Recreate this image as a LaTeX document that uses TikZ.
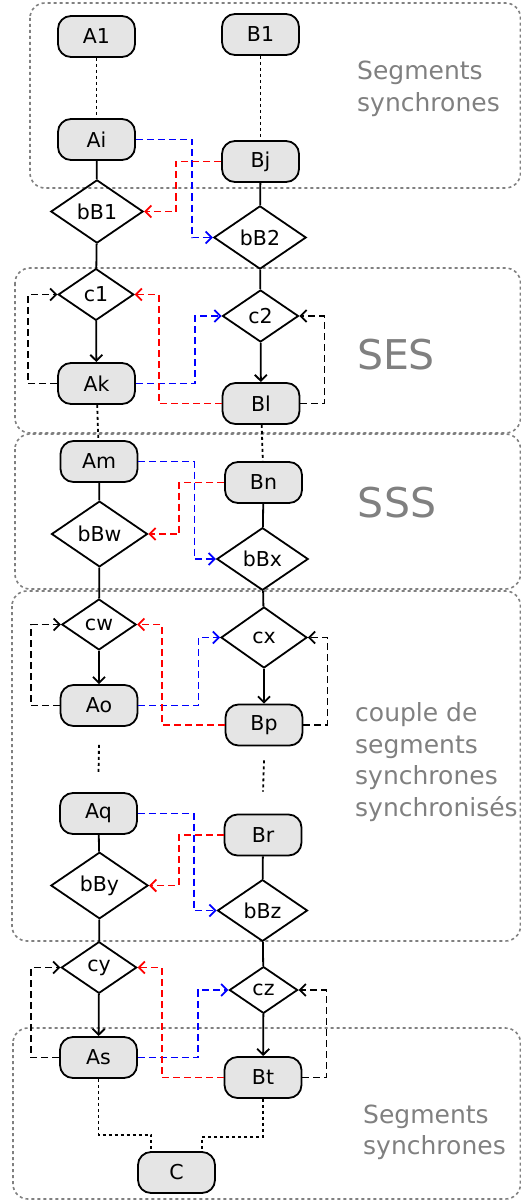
\documentclass[tikz,border=0pt]{standalone}
\usepackage{fontspec}
\setmainfont{DejaVu Sans}
\usetikzlibrary{shapes.geometric,arrows.meta}

\tikzset{
  seg/.style={draw, line width=1.8pt, fill=gray!20, rounded corners=13pt,
    minimum width=77pt, minimum height=41pt, inner sep=0pt,
    font=\fontsize{20.5}{24}\selectfont},
  decision/.style={draw, line width=1.8pt, diamond, aspect=1.46, inner sep=5.9pt,
    font=\fontsize{20.5}{24}\selectfont},
  zone/.style={draw=gray, line width=1.6pt, dash pattern=on 3pt off 3pt,
    rounded corners=15pt},
  zonetext/.style={text=gray, align=left, inner sep=0pt, anchor=west,
    font=\fontsize{25}{31.5}\selectfont},
  flow/.style={line width=1.8pt},
  waitline/.style={line width=1.8pt, dash pattern=on 3pt off 3pt},
  selfloop/.style={line width=1.8pt, dash pattern=on 7pt off 4pt, ->},
  sigA/.style={line width=1.8pt, blue, dash pattern=on 7pt off 4pt, ->},
  sigB/.style={line width=1.8pt, red, dash pattern=on 7pt off 4pt, ->},
  >={Straight Barb[length=6pt,width=12pt]}
}

\begin{document}
\begin{tikzpicture}[x=1pt, y=-1pt]
        \useasboundingbox (0,0) rectangle (521,1201);

        % Zones
        \draw[zone] (30,3) rectangle (520.5,188);
        \draw[zone] (15,268) rectangle (520.5,433);
        \draw[zone] (15,434) rectangle (520.5,589);
        \draw[zone] (12,591) rectangle (520.5,941);
        \draw[zone] (13,1028) rectangle (520.5,1199);

        \node[zonetext] (t1) at (357,89) {Segments\\synchrones};
        \node[text=gray, font=\fontsize{41}{48}\selectfont] (ses) at (396,355) {SES};
        \node[text=gray, font=\fontsize{41}{48}\selectfont] (sss) at (397,503) {SSS};
        \node[zonetext] (t2) at (355,762) {couple de\\segments\\synchrones\\synchronisés};
        \node[zonetext] (t3) at (363,1132.5) {Segments\\synchrones};

        % Segments A
        \node[seg] (A1) at (96.5,36.5) {A1};
        \node[seg] (Ai) at (96.5,139.5) {Ai};
        \node[decision] (bB1) at (97,211.5) {bB1};
        \node[decision] (c1) at (96,294.5) {c1};
        \node[seg] (Ak) at (96.5,383.5) {Ak};
        \node[seg] (Am) at (99,461.5) {Am};
        \node[decision] (bBw) at (99.5,534) {bBw};
        \node[decision] (cw) at (99,624.5) {cw};
        \node[seg] (Ao) at (99,705.5) {Ao};
        \node[seg] (Aq) at (98.5,813.5) {Aq};
        \node[decision] (bBy) at (99.5,885.5) {bBy};
        \node[decision] (cy) at (99,967.5) {cy};
        \node[seg] (As) at (98.5,1057.5) {As};

        % Segments B
        \node[seg] (B1) at (260.5,34.5) {B1};
        \node[seg] (Bj) at (260.5,161.5) {Bj};
        \node[decision] (bB2) at (260,237.5) {bB2};
        \node[decision] (c2) at (260.5,316) {c2};
        \node[seg] (Bl) at (261,403.5) {Bl};
        \node[seg] (Bn) at (263.5,482.5) {Bn};
        \node[decision] (bBx) at (262.5,559) {bBx};
        \node[decision, minimum width=86pt, minimum height=61pt] (cx) at (264,637.5) {cx};
        \node[seg] (Bp) at (264,725) {Bp};
        \node[seg] (Br) at (263,835) {Br};
        \node[decision] (bBz) at (262.5,910.5) {bBz};
        \node[decision] (cz) at (263.5,990) {cz};
        \node[seg] (Bt) at (263,1077.5) {Bt};

        \node[seg] (C) at (176.5,1172.5) {C};

        % Flow A
        \draw[waitline] (A1) -- (Ai);
        \draw[flow] (Ai) -- (bB1);
        \draw[flow] (bB1) -- (c1);
        \draw[flow,->] (c1) -- (Ak);
        \draw[waitline] (Ak) -- (Am);
        \draw[flow] (Am) -- (bBw);
        \draw[flow] (bBw) -- (cw);
        \draw[flow,->] (cw) -- (Ao);
        \draw[waitline] ([yshift=-18pt]Ao.south) -- ([yshift=18pt]Aq.north);
        \draw[flow] (Aq) -- (bBy);
        \draw[flow] (bBy) -- (cy);
        \draw[flow,->] (cy) -- (As);

        % Flow B
        \draw[waitline] (B1) -- (Bj);
        \draw[flow] (Bj) -- (bB2);
        \draw[flow] (bB2) -- (c2);
        \draw[flow,->] (c2) -- (Bl);
        \draw[waitline] (Bl) -- (Bn);
        \draw[flow] (Bn) -- (bBx);
        \draw[flow] (bBx) -- (cx);
        \draw[flow,->] (cx) -- (Bp);
        \draw[waitline] ([yshift=-14pt]Bp.south) -- ([yshift=22pt]Br.north);
        \draw[flow] (Br) -- (bBz);
        \draw[flow] (bBz) -- (cz);
        \draw[flow,->] (cz) -- (Bt);

        % Join
        \draw[waitline] (As.south) -- ++(0,56) -| ([xshift=-25.5pt]C.north);
        \draw[waitline] (Bt.south) -- ++(0,38) -| ([xshift=25.5pt]C.north);

        % Synchronous segments
        \draw[sigA] (Ai.east) -- ++(56,0) |- (bB2.west);
        \draw[sigB] (Bj.west) -- ++(-45,0) |- (bB1.east);
        \draw[sigA] (Am.east) -- ++(56,0) |- (bBx.west);
        \draw[sigB] (Bn.west) -- ++(-45,0) |- (bBw.east);
        \draw[sigA] (Aq.east) -- ++(56,0) |- (bBz.west);
        \draw[sigB] (Br.west) -- ++(-45,0) |- (bBy.east);

        % Loops
        \draw[selfloop] (Ak.west) -- ++(-29,0) |- (c1.west);
        \draw[selfloop] (Bl.east) -- ++(24,0) |- (c2.east);
        \draw[sigA] (Ak.east) -- ++(59,0) |- (c2.west);
        \draw[sigB] (Bl.west) -- ++(-63,0) |- (c1.east);

        \draw[selfloop] (Ao.west) -- ++(-29,0) |- (cw.west);
        \draw[selfloop] (Bp.east) -- ++(24,0) |- (cx.east);
        \draw[sigA] (Ao.east) -- ++(60,0) |- (cx.west);
        \draw[sigB] (Bp.west) -- ++(-63,0) |- (cw.east);

        \draw[selfloop] (As.west) -- ++(-28,0) |- (cy.west);
        \draw[selfloop] (Bt.east) -- ++(24,0) |- (cz.east);
        \draw[sigA] (As.east) -- ++(60,0) |- (cz.west);
        \draw[sigB] (Bt.west) -- ++(-62,0) |- (cy.east);
      \end{tikzpicture}
\end{document}
